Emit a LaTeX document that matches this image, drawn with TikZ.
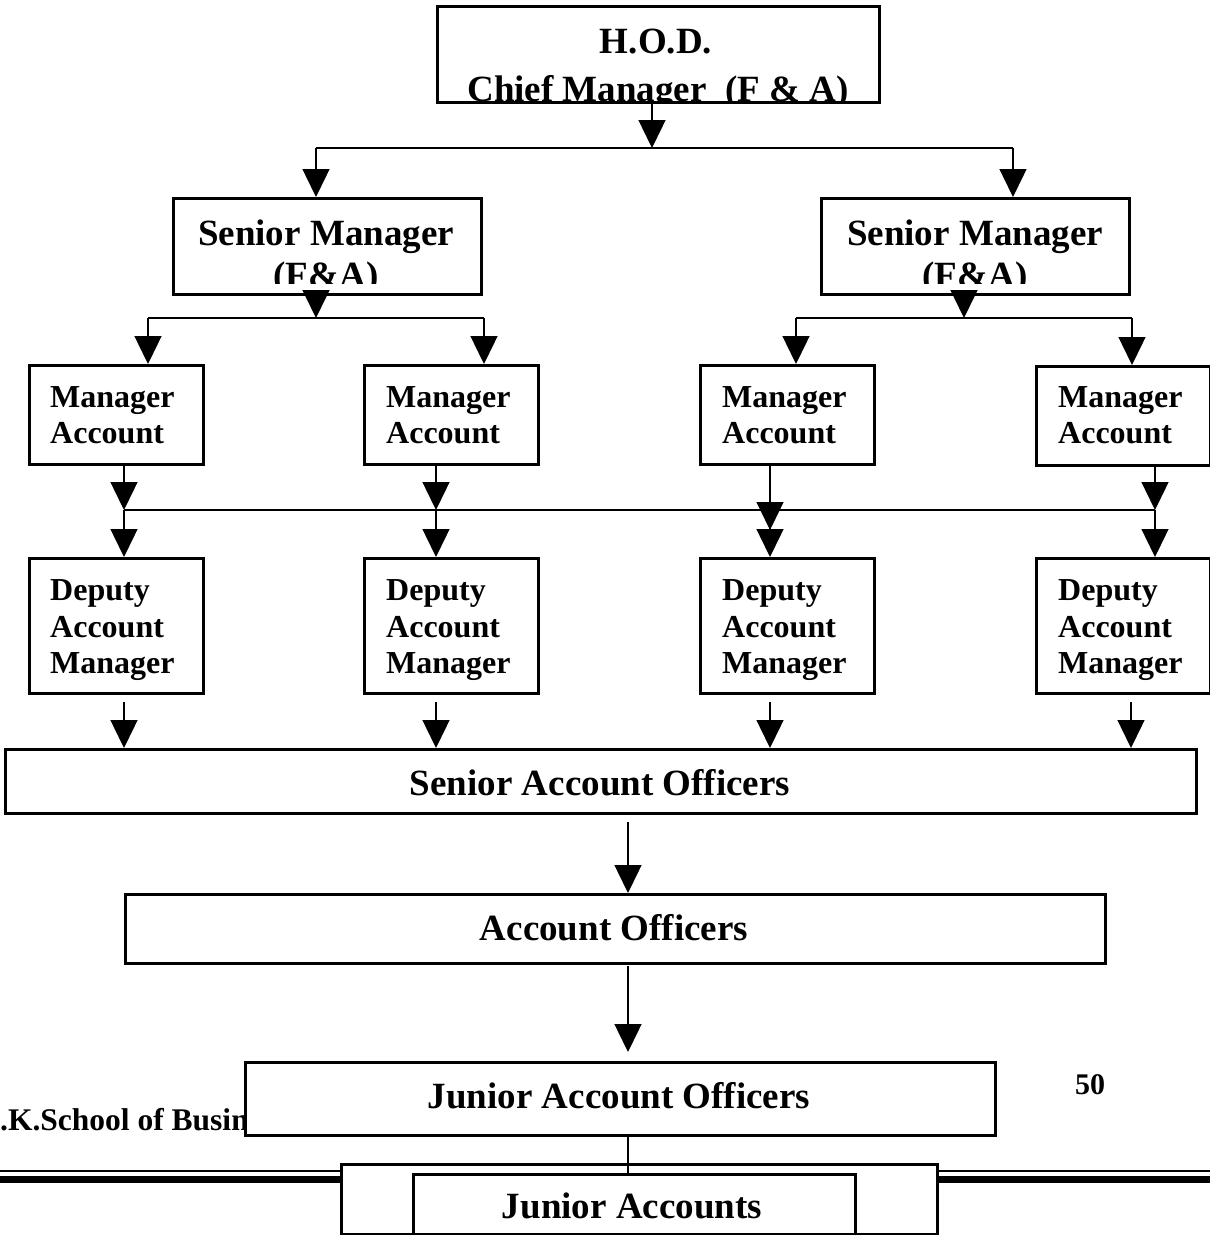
\documentclass[tikz,border=0pt]{standalone}
\usepackage{fontspec}
\setmainfont{Liberation Serif}
\usetikzlibrary{arrows.meta}
\begin{document}
\begin{tikzpicture}[x=1pt,y=-1pt,
 box/.style={draw, line width=2.5pt, fill=white, inner sep=0pt, anchor=north west, rectangle},
 conn/.style={line width=1.4pt},
 arr/.style={conn, -{Triangle[length=28pt,width=27pt]}},
 bus/.style={line width=2pt},
 big/.style={font=\fontsize{37}{42}\selectfont\bfseries, inner sep=0pt, anchor=base},
 small/.style={font=\fontsize{32}{36}\selectfont\bfseries, inner sep=0pt, anchor=base west},
 foot/.style={font=\fontsize{31.5}{34}\selectfont\bfseries, inner sep=0pt, anchor=base west},
]
\useasboundingbox (0,0) rectangle (1210,1235);

% footer rules and footer text (partly hidden by boxes)
\draw[line width=1.5pt] (0,1171) -- (1210,1171);
\draw[line width=7pt] (0,1179.5) -- (1210,1179.5);
\begin{scope}
 \clip (0,1090) rectangle (244,1160);
 \node[foot] (footer) at (0,1130) {.K.School of Busin};
\end{scope}
\node[foot, anchor=base, font=\fontsize{30}{34}\selectfont\bfseries] (page) at (1090,1094) {50};

% boxes
\node[box, minimum width=442pt, minimum height=96pt] (hod) at (436,5) {};
\node[box, minimum width=308pt, minimum height=96pt] (sml) at (172,197) {};
\node[box, minimum width=308pt, minimum height=96pt] (smr) at (820,197) {};
\node[box, minimum width=174pt, minimum height=99pt] (m1) at (28,364) {};
\node[box, minimum width=174pt, minimum height=99pt] (m2) at (363,364) {};
\node[box, minimum width=174pt, minimum height=99pt] (m3) at (699,364) {};
\node[box, minimum width=174pt, minimum height=99pt] (m4) at (1035,365) {};
\node[box, minimum width=174pt, minimum height=135pt] (d1) at (28,557) {};
\node[box, minimum width=174pt, minimum height=135pt] (d2) at (363,557) {};
\node[box, minimum width=174pt, minimum height=135pt] (d3) at (699,557) {};
\node[box, minimum width=174pt, minimum height=135pt] (d4) at (1035,557) {};
\node[box, minimum width=1191pt, minimum height=64pt] (sao) at (4,748) {};
\node[box, minimum width=980pt, minimum height=69pt] (ao) at (124,893) {};
\node[box, minimum width=750pt, minimum height=73pt] (jao) at (244,1061) {};
\node[box, minimum width=596pt, minimum height=70pt] (jaout) at (340,1163) {};
\node[box, minimum width=442pt, minimum height=60pt] (jain) at (412,1173) {};

% texts
\begin{scope}
 \clip (436,5) rectangle (878,100);
 \node[big] (hodA) at (656,53) {H.O.D.};
 \node[big] (hodB) at (658,101) {Chief Manager\ \ (F \& A)};
\end{scope}
\begin{scope}
 \clip (172,197) rectangle (480,283);
 \node[big] (smlA) at (326,245) {Senior Manager};
 \node[big] (smlB) at (326,287) {(F\&A)};
\end{scope}
\begin{scope}
 \clip (820,197) rectangle (1128,283);
 \node[big] (smrA) at (975,245) {Senior Manager};
 \node[big] (smrB) at (975,287) {(F\&A)};
\end{scope}
\foreach \n/\x in {1/50,2/386,3/722,4/1058}{
 \node[small] (mA\n) at (\x,407) {Manager};
 \node[small] (mB\n) at (\x,443) {Account};
 \node[small] (dA\n) at (\x,600) {Deputy};
 \node[small] (dB\n) at (\x,637) {Account};
 \node[small] (dC\n) at (\x,673) {Manager};
}
\node[big] (saoT) at (600,795) {Senior Account Officers};
\node[big] (aoT) at (614,940) {Account Officers};
\node[big] (jaoT) at (619,1108) {Junior Account Officers};
\node[big] (jaT) at (632,1218) {Junior Accounts};

% coordinates for connectors
\coordinate (b0) at (652,148);
\coordinate (bl0) at (316,148);
\coordinate (br0) at (1013,148);
\coordinate (b1) at (316,318);
\coordinate (b1l) at (148,318);
\coordinate (b1r) at (484,318);
\coordinate (b2) at (964,318);
\coordinate (b2l) at (796,318);
\coordinate (b2r) at (1132,318);
\coordinate (c1) at (124,510);
\coordinate (c2) at (436,510);
\coordinate (c3) at (770,510);
\coordinate (c3t) at (770,530);
\coordinate (c4) at (1155,510);
\coordinate (e1) at (124,702);
\coordinate (e2) at (436,702);
\coordinate (e3) at (770,702);
\coordinate (e4) at (1131,702);
\coordinate (f1) at (628,822);
\coordinate (f2) at (628,966);
\coordinate (f2t) at (628,1052);

% connectors
\draw[arr] (hod.south -| b0) -- (b0);
\draw[bus] (bl0) -- (br0);
\draw[arr] (bl0) -- (bl0 |- sml.north);
\draw[arr] (br0) -- (br0 |- smr.north);

\draw[arr] (sml.south -| b1) -- (b1);
\draw[bus] (b1l) -- (b1r);
\draw[arr] (b1l) -- (b1l |- m1.north);
\draw[arr] (b1r) -- (b1r |- m2.north);

\draw[arr] (smr.south -| b2) -- (b2);
\draw[bus] (b2l) -- (b2r);
\draw[arr] (b2l) -- (b2l |- m3.north);
\draw[arr] (b2r) -- (b2r |- m4.north);

\draw[bus] (c1) -- (c4);
\draw[arr] (m1.south -| c1) -- (c1);
\draw[arr] (m2.south -| c2) -- (c2);
\draw[arr] (m3.south -| c3) -- (c3t);
\draw[arr] ([yshift=2pt]m4.south -| c4) -- (c4);
\draw[arr] (c1) -- (c1 |- d1.north);
\draw[arr] (c2) -- (c2 |- d2.north);
\draw[arr] (c3) -- (c3 |- d3.north);
\draw[arr] (c4) -- (c4 |- d4.north);

\draw[arr] (e1) -- (e1 |- sao.north);
\draw[arr] (e2) -- (e2 |- sao.north);
\draw[arr] (e3) -- (e3 |- sao.north);
\draw[arr] (e4) -- (e4 |- sao.north);

\draw[arr] (f1) -- (f1 |- ao.north);
\draw[arr] (f2) -- (f2t);
\draw[conn] (jao.south -| f2) -- (jain.north -| f2);
\end{tikzpicture}
\end{document}
